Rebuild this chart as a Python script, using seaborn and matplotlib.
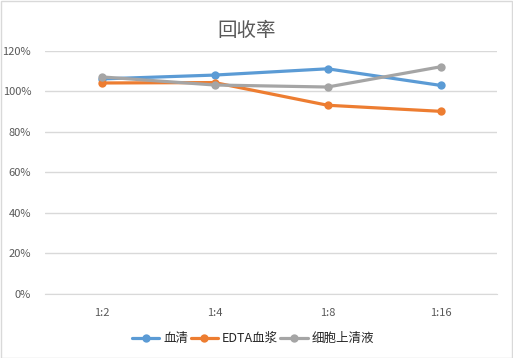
import pandas as pd
import numpy as np
import matplotlib.pyplot as plt
import seaborn as sns

dilutions = ["1:2", "1:4", "1:8", "1:16"]
serum = [1.062, 1.081, 1.112, 1.030]
edta_plasma = [1.042, 1.044, 0.932, 0.902]
supernatant = [1.072, 1.032, 1.022, 1.122]
series_names = ["血清", "EDTA血浆", "细胞上清液"]
colors = ["#5B9BD5", "#ED7D31", "#A5A5A5"]

data = pd.DataFrame({
    "dilution": dilutions * 3,
    "pos": list(range(len(dilutions))) * 3,
    "value": serum + edta_plasma + supernatant,
    "series": [s for s in series_names for _ in dilutions],
})

sns.set_style("white")
plt.rcParams['font.family'] = ['Noto Sans CJK SC', 'DejaVu Sans']

fig = plt.figure(figsize=(5.13, 3.58), dpi=100)
fig.patches.append(plt.Rectangle((0.001, 0.001), 0.997, 0.997, transform=fig.transFigure,
                                 fill=False, edgecolor="#D9D9D9", linewidth=1))
ax = fig.add_axes([0.0877, 0.1788, 0.8813, 0.6788])

sns.lineplot(data=data, x="pos", y="value", hue="series", palette=colors,
             marker="o", markersize=6, markeredgewidth=0, linewidth=2.3, ax=ax)

ax.set_xlim(-0.5, len(dilutions) - 0.5)
ax.set_ylim(0, 1.2)
ax.set_yticks(np.arange(0, 1.21, 0.2))
ax.set_yticklabels([f"{int(round(v * 100))}%" for v in np.arange(0, 1.21, 0.2)],
                   fontsize=8, color="#595959")
ax.set_xticks(range(len(dilutions)))
ax.set_xticklabels(dilutions, fontsize=8, color="#595959")
ax.tick_params(axis="both", length=0, pad=10)
ax.yaxis.grid(True, color="#D9D9D9", linewidth=1)
ax.set_axisbelow(True)
for side in ["left", "right", "top"]:
    ax.spines[side].set_visible(False)
ax.spines["bottom"].set_color("#D9D9D9")
ax.set_xlabel("")
ax.set_ylabel("")

fig.text(0.48, 0.915, "回收率", ha="center", va="center", fontsize=14, color="#595959")

ax.legend(loc="upper center", bbox_to_anchor=(0.46, -0.11), ncol=3, frameon=False,
          fontsize=9, handlelength=2.2, columnspacing=0.2, handletextpad=0.3)

fig.savefig("out.png", dpi=100)
